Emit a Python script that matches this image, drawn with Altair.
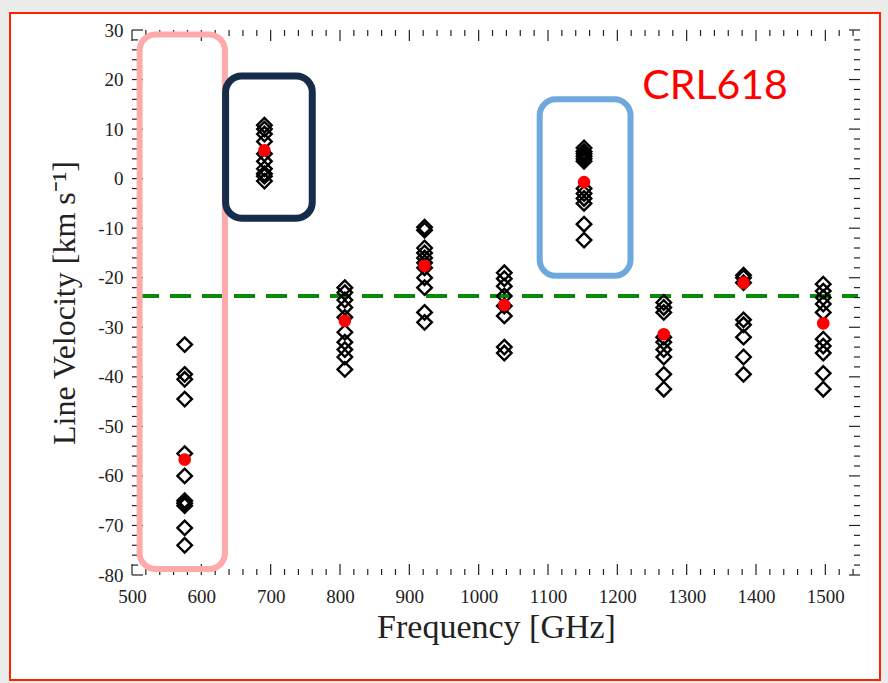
import altair as alt
import pandas as pd

# ---------------- data ----------------
freq_ghz = [576, 691, 807, 922, 1037, 1152, 1267, 1382, 1497]
vel_576 = [-33.5, -39.5, -40.5, -44.5, -55.5, -60, -65, -65.5, -66, -70.5, -74]
vel_691 = [10.8, 10, 9, 7.5, 5, 3.5, 2, 1, 0.5, -0.5]
vel_807 = [-22, -23, -24.5, -26, -28, -31, -33, -34.5, -36, -38.5]
vel_922 = [-9.8, -10.4, -14, -15, -16, -17, -18, -20, -22, -27, -29]
vel_1037 = [-19, -20.2, -21.7, -23.7, -25.7, -27.7, -34, -35.2]
vel_1152 = [6.2, 5.5, 5, 4.5, 4, 3.5, -2, -3, -4, -5, -9.2, -12.4]
vel_1267 = [-25, -26, -27, -32, -33, -34.5, -36, -39.5, -42.5]
vel_1382 = [-19.5, -20, -21, -28.5, -29.5, -32, -36, -39.5]
vel_1497 = [-21.3, -22.7, -24, -25.3, -27, -32.4, -33.8, -35.2, -39.3, -42.5]
mean_vel = [-56.7, 5.7, -28.7, -17.6, -25.5, -0.7, -31.4, -21.0, -29.2]
systemic_vel = -23.7

box_x0 = [511, 635, 1088]
box_x1 = [634, 760, 1219]
box_y0 = [29.1, 20.7, 16.0]
box_y1 = [-78.8, -8.0, -19.6]
box_color = ["#ffaaaa", "#172c4a", "#6fa8dc"]
box_width = [6, 7, 6]

label_text = ["CRL618"]
label_x = [1341]
label_y = [18.4]

x_major = list(range(500, 1501, 100))
y_major = list(range(-80, 31, 10))
x_minor = [v for v in range(520, 1550, 20) if v % 100 != 0]
y_minor = [v for v in range(-78, 30, 2) if v % 10 != 0]

# ---------------- tables ----------------
all_vels = [vel_576, vel_691, vel_807, vel_922, vel_1037, vel_1152,
            vel_1267, vel_1382, vel_1497]
rows = []
for f, vs in zip(freq_ghz, all_vels):
    for v in vs:
        rows.append({"freq": f, "vel": v})
pts = pd.DataFrame(rows)
means = pd.DataFrame({"freq": freq_ghz, "vel": mean_vel})
boxes = pd.DataFrame({"x0": box_x0, "x1": box_x1, "y0": box_y0, "y1": box_y1,
                      "c": box_color, "w": box_width})
labels = pd.DataFrame({"t": label_text, "x": label_x, "y": label_y})

W, H = 728, 545
FONT = "Liberation Serif"

xscale = alt.Scale(domain=[500, 1550], nice=False, zero=False)
yscale = alt.Scale(domain=[-80, 30], nice=False, zero=False)

xaxis = alt.Axis(values=x_major, ticks=False, domain=False, grid=False,
                 labelExpr="'' + datum.value",
                 labelFont=FONT, labelFontSize=19, labelColor="#222",
                 labelPadding=12, title="Frequency [GHz]", titleFont=FONT,
                 titleFontSize=34, titleFontWeight="normal", titleColor="#222",
                 titlePadding=4, labelFlush=False, zindex=2)
yaxis = alt.Axis(values=y_major, ticks=False, domain=False, grid=False,
                 labelExpr="'' + datum.value",
                 labelFont=FONT, labelFontSize=19, labelColor="#222",
                 labelPadding=9, title="Line Velocity [km s⁻¹]", titleFont=FONT,
                 titleFontSize=32, titleFontWeight="normal", titleColor="#222",
                 titlePadding=16, labelFlush=False, zindex=2)

one = pd.DataFrame({"a": [0]})

frame = alt.Chart(one).mark_rect(fill="white", stroke="#ff2200",
                                 strokeWidth=2).encode(
    x=alt.value(-122), x2=alt.value(748), y=alt.value(-17), y2=alt.value(650))

sysline = alt.Chart(one).mark_rule(color="#0a8a0a", strokeWidth=4,
                                   strokeDash=[21, 11]).encode(
    y=alt.datum(systemic_vel, scale=yscale), x=alt.value(6), x2=alt.value(W - 2))

diamonds = alt.Chart(pts).mark_point(shape="diamond", filled=False,
                                     color="black", strokeWidth=2.4,
                                     size=210, opacity=1).encode(
    x=alt.X("freq:Q", scale=xscale, axis=xaxis),
    y=alt.Y("vel:Q", scale=yscale, axis=yaxis))

dots = alt.Chart(means).mark_point(shape="circle", filled=True, color="#ff0000",
                                   size=160, opacity=1).encode(
    x=alt.X("freq:Q", scale=xscale), y=alt.Y("vel:Q", scale=yscale))

xmaj = pd.DataFrame({"v": x_major})
xmin = pd.DataFrame({"v": x_minor})
ymaj = pd.DataFrame({"v": y_major})
ymin = pd.DataFrame({"v": y_minor})

def xticks(df, ln):
    b = alt.Chart(df).mark_rule(color="#222", strokeWidth=1.2).encode(
        x=alt.X("v:Q", scale=xscale), y=alt.value(H), y2=alt.value(H - ln))
    t = alt.Chart(df).mark_rule(color="#222", strokeWidth=1.2).encode(
        x=alt.X("v:Q", scale=xscale), y=alt.value(0), y2=alt.value(ln))
    return [b, t]

def yticks(df, ln):
    l = alt.Chart(df).mark_rule(color="#222", strokeWidth=1.2).encode(
        y=alt.Y("v:Q", scale=yscale), x=alt.value(0), x2=alt.value(ln))
    r = alt.Chart(df).mark_rule(color="#222", strokeWidth=1.2).encode(
        y=alt.Y("v:Q", scale=yscale), x=alt.value(W), x2=alt.value(W - ln))
    return [l, r]

ticks = xticks(xmaj, 11) + xticks(xmin, 6) + yticks(ymaj, 11) + yticks(ymin, 6)

rects = alt.Chart(boxes).mark_rect(fill=None, cornerRadius=16).encode(
    x=alt.X("x0:Q", scale=xscale), x2="x1:Q",
    y=alt.Y("y0:Q", scale=yscale), y2="y1:Q",
    stroke=alt.Stroke("c:N", scale=None),
    strokeWidth=alt.StrokeWidth("w:Q", scale=None))

text = alt.Chart(labels).mark_text(font="Lato", fontSize=41, color="#ff0000",
                                   baseline="middle", align="center").encode(
    x=alt.X("x:Q", scale=xscale), y=alt.Y("y:Q", scale=yscale), text="t:N")

chart = alt.layer(frame, sysline, diamonds, dots, *ticks, rects, text).properties(
    width=W, height=H,
    autosize=alt.AutoSizeParams(type="none"),
    padding={"left": 132, "top": 30, "right": 28, "bottom": 108},
    background="#ececec",
).configure_view(stroke="#111", strokeWidth=1.5)

chart.save("out.html", embed_options={"renderer": "svg", "actions": False})
